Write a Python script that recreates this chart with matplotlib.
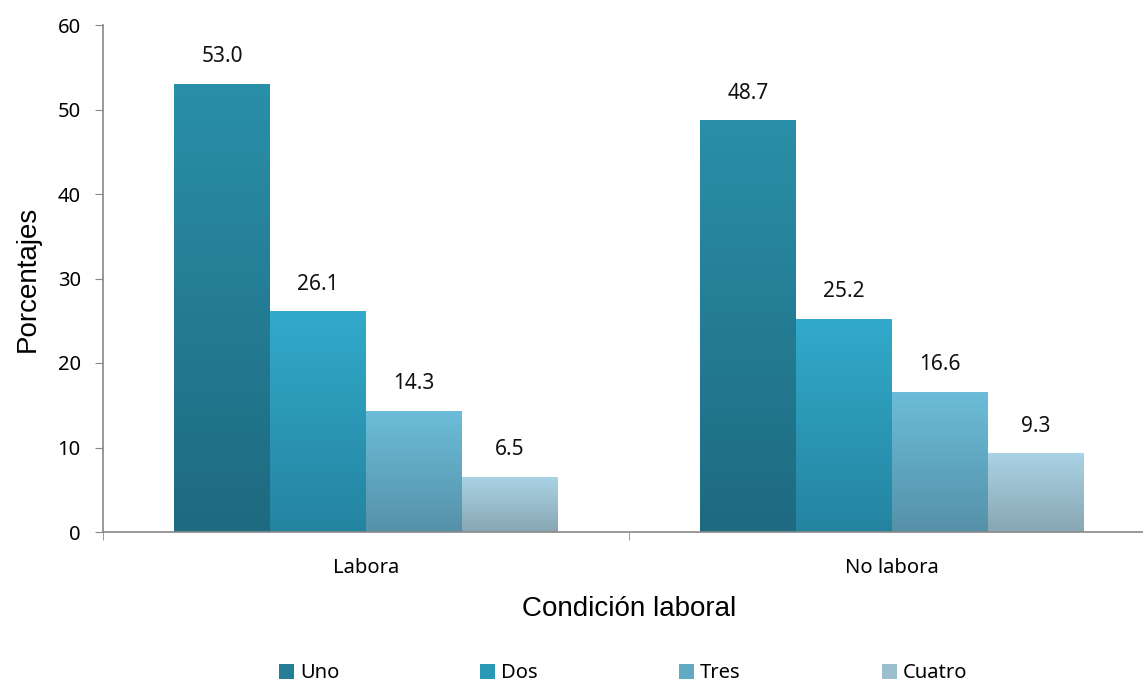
import matplotlib.pyplot as plt
import numpy as np
from matplotlib.colors import LinearSegmentedColormap
from matplotlib.patches import Patch

categories = ['Labora', 'No labora']
series = ['Uno', 'Dos', 'Tres', 'Cuatro']
uno = [53.0, 48.7]
dos = [26.1, 25.2]
tres = [14.3, 16.6]
cuatro = [6.5, 9.3]
values = [uno, dos, tres, cuatro]

# top colour, bottom colour for each series (gradient)
top_colors = ['#2a8fa8', '#32aacb', '#6cbdd9', '#aad3e5']
bottom_colors = ['#1e6a80', '#2484a0', '#5591a8', '#88a6b3']
mid_colors = ['#257d96', '#2c98b8', '#62a9c3', '#9bbfcd']

fig = plt.figure(figsize=(11.43, 6.83), dpi=100)
ax = fig.add_axes([103 / 1143, 1 - 532 / 683, (1155 - 103) / 1143, (532 - 25) / 683])

x = np.arange(len(categories))
w = 0.1825
grad = np.linspace(0, 1, 256).reshape(-1, 1)

for i, s in enumerate(series):
    offs = (i - 1.5) * w
    bars = ax.bar(x + offs, values[i], w, color='none', edgecolor='none', zorder=2)
    cmap = LinearSegmentedColormap.from_list(s, [bottom_colors[i], top_colors[i]])
    for b, v in zip(bars, values[i]):
        x0 = b.get_x()
        im = ax.imshow(grad, cmap=cmap, origin='lower', aspect='auto',
                       extent=[x0, x0 + w, 0, v], zorder=2)
        im.set_clip_path(b)
        ax.text(x0 + w / 2, v + 2.0, f'{v:.1f}', ha='center', va='bottom',
                fontsize=15, family='Noto Sans', color='#111111')

ax.set_xlim(-0.5, 1.5)
ax.set_ylim(0, 60)
ax.set_yticks(range(0, 61, 10))
ax.set_xticks(x)
ax.set_xticklabels(categories, fontsize=14.5, family='Noto Sans')
ax.set_xticks([-0.5, 0.5, 1.5], minor=True)
ax.tick_params(axis='x', which='major', length=0, pad=19)
ax.tick_params(axis='x', which='minor', length=6, color='#888888', direction='out')
ax.tick_params(axis='y', length=6, color='#888888', labelsize=14.5, pad=10)
for lab in ax.get_yticklabels():
    lab.set_family('Noto Sans')

for sp in ['top', 'right']:
    ax.spines[sp].set_visible(False)
for sp in ['left', 'bottom']:
    ax.spines[sp].set_color('#888888')
    ax.spines[sp].set_linewidth(1.2)

ax.set_ylabel('Porcentajes', fontsize=20, family='Liberation Sans', labelpad=12)
ax.set_xlabel('Condición laboral', fontsize=20, family='Liberation Sans', labelpad=13)

handles = [Patch(facecolor=c, edgecolor='none') for c in mid_colors]
fig.legend(handles, series, loc='center', bbox_to_anchor=(0.545, 0.014), ncol=4,
           frameon=False, prop={'family': 'Noto Sans', 'size': 14.5},
           handlelength=0.75, handleheight=0.75, handletextpad=0.3, columnspacing=7.0)

fig.savefig('out.png', dpi=100)
